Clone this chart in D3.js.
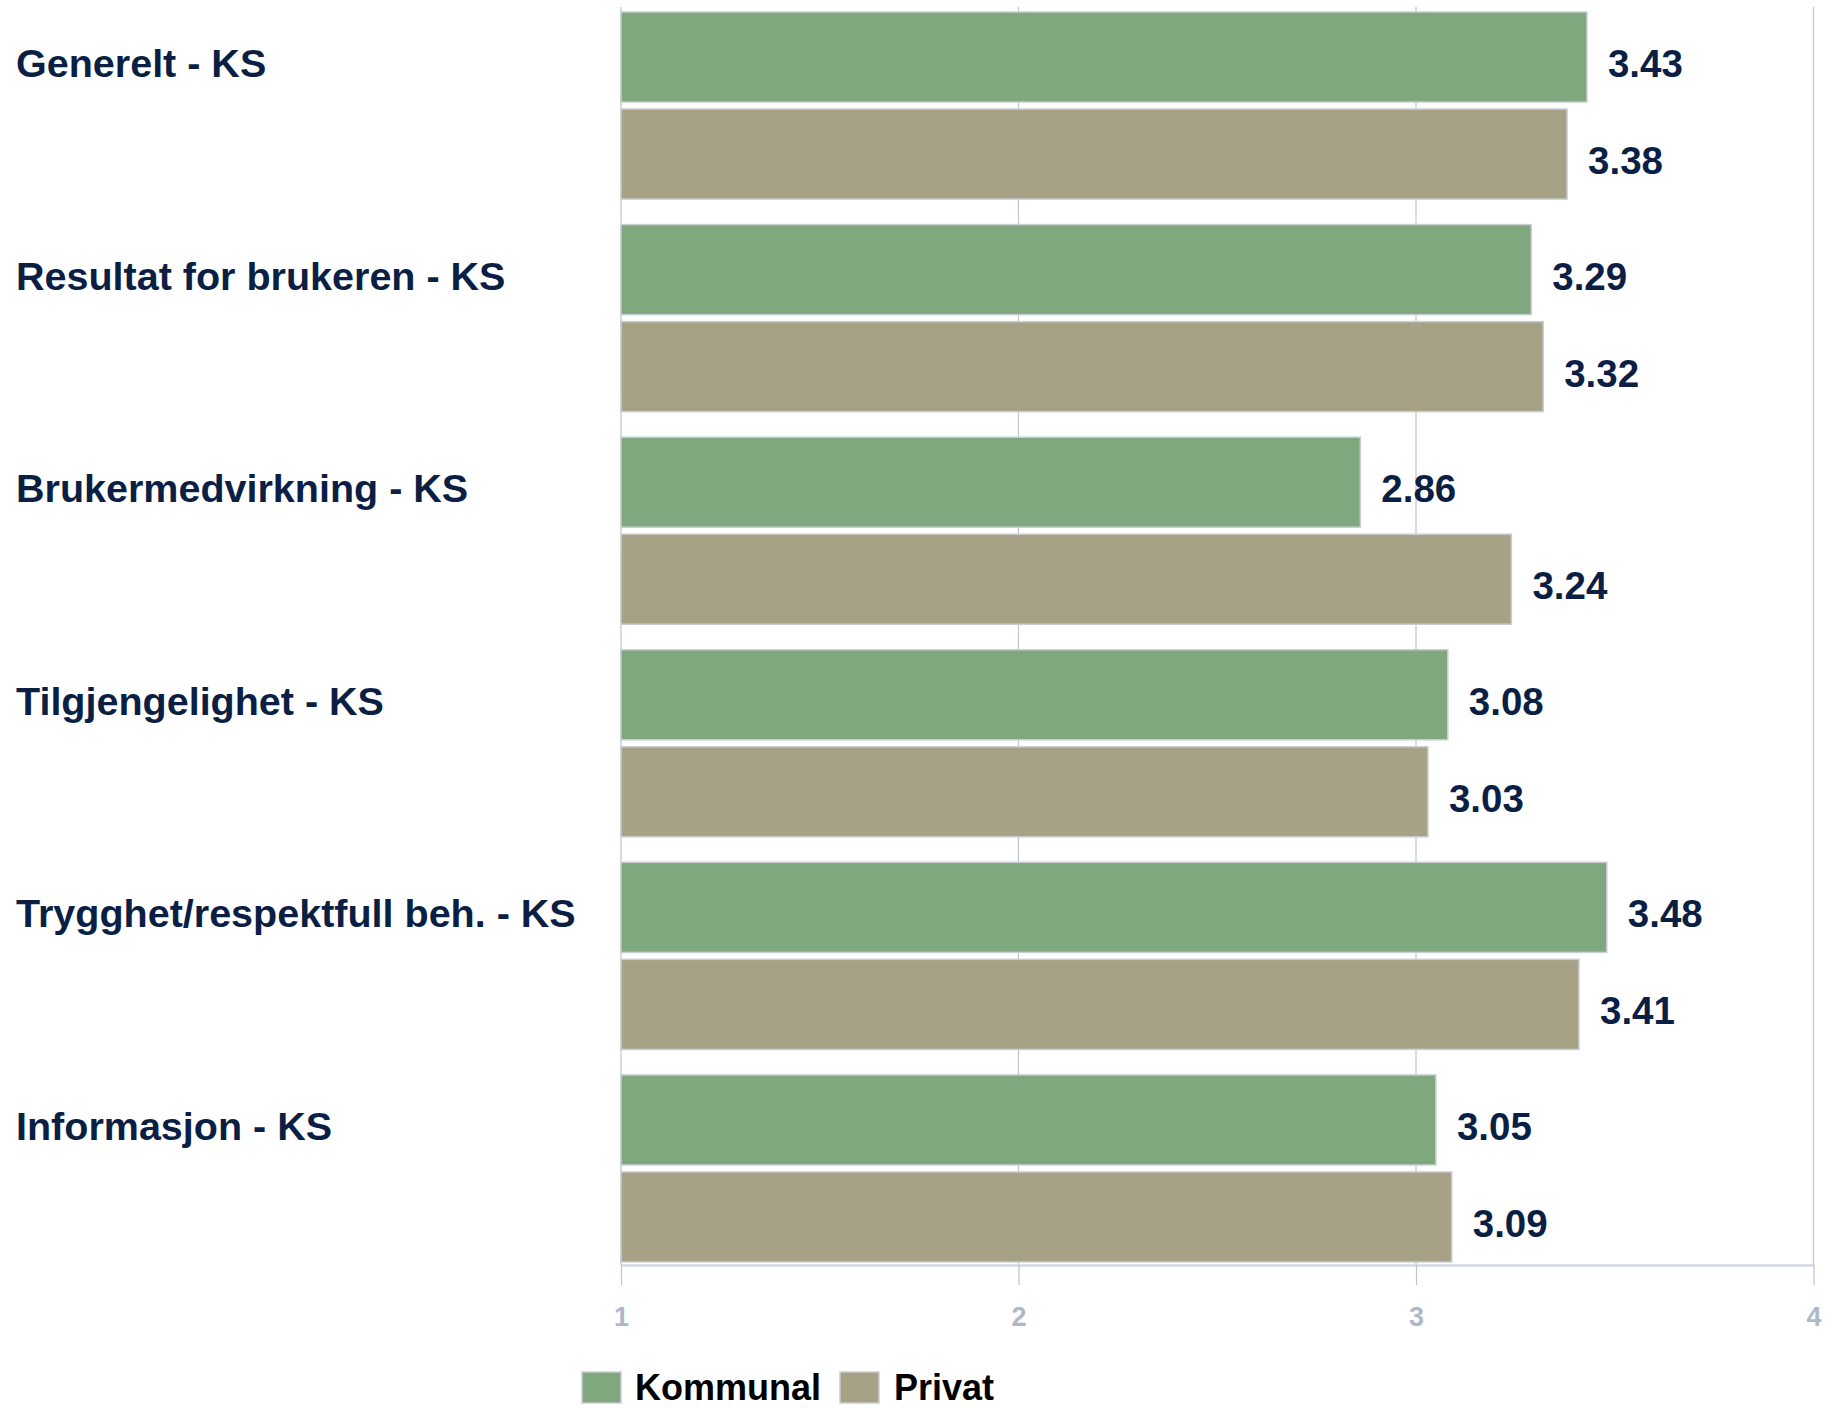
<!DOCTYPE html>
<html>
<head>
<meta charset="utf-8">
<script src="https://cdn.jsdelivr.net/npm/d3@7"></script>
<style>
  html, body { margin: 0; padding: 0; background: #fff; overflow: hidden; }
  svg { display: block; font-family: "Liberation Sans", Arial, sans-serif; }
</style>
</head>
<body>
<svg id="chart" width="1835" height="1408"></svg>
<script>
const categories = [
  "Generelt - KS",
  "Resultat for brukeren - KS",
  "Brukermedvirkning - KS",
  "Tilgjengelighet - KS",
  "Trygghet/respektfull beh. - KS",
  "Informasjon - KS"
];
const seriesNames = ["Kommunal", "Privat"];
const kommunal = [3.43, 3.29, 2.86, 3.08, 3.48, 3.05];
const privat   = [3.38, 3.32, 3.24, 3.03, 3.41, 3.09];
const tickValues = [1, 2, 3, 4];
const seriesColors = ["#7fa87e", "#a7a285"];

const svg = d3.select("#chart");
const navy = "#0b1f45";
const gridColor = "#bcc5d2";

const x = d3.scaleLinear().domain([1, 4]).range([621, 1813.5]);
const y = d3.scaleBand().domain(categories).range([12, 1262]).paddingInner(0.12).paddingOuter(0);
const ySub = d3.scaleBand().domain(seriesNames).range([0, y.bandwidth()]).paddingInner(0.072).paddingOuter(0);
const color = d3.scaleOrdinal().domain(seriesNames).range(seriesColors);

const data = categories.map((c, i) => ({
  cat: c,
  values: [
    { s: "Kommunal", v: kommunal[i] },
    { s: "Privat", v: privat[i] }
  ]
}));

// Grid lines + ticks
const axisG = svg.append("g").attr("transform", "translate(0,1265)");
const xAxis = d3.axisBottom(x).tickValues(tickValues).tickFormat(d3.format("d")).tickSize(20).tickSizeOuter(0).tickPadding(22);
axisG.call(xAxis);
axisG.select(".domain").attr("stroke", "#d3d9e1").attr("stroke-width", 2.5);
axisG.selectAll(".tick line").attr("stroke", gridColor).attr("stroke-width", 1.2);
axisG.selectAll(".tick text")
  .attr("fill", "#aeb8c7")
  .attr("font-size", 27)
  .attr("font-weight", "bold")
  .attr("font-family", "'Liberation Sans', Arial, sans-serif");

svg.append("g").selectAll("line")
  .data(tickValues)
  .join("line")
  .attr("x1", d => x(d)).attr("x2", d => x(d))
  .attr("y1", 7).attr("y2", 1265)
  .attr("stroke", gridColor)
  .attr("stroke-width", 1.2);

// Bars
const groups = svg.append("g").selectAll("g")
  .data(data)
  .join("g")
  .attr("transform", d => `translate(0,${y(d.cat)})`);

groups.selectAll("rect")
  .data(d => d.values)
  .join("rect")
  .attr("x", x(1))
  .attr("y", d => ySub(d.s))
  .attr("width", d => x(d.v) - x(1))
  .attr("height", ySub.bandwidth())
  .attr("fill", d => color(d.s))
  .attr("stroke", "#c9cdd3")
  .attr("stroke-width", 1.5);

groups.selectAll("text.val")
  .data(d => d.values)
  .join("text")
  .attr("class", "val")
  .attr("x", d => x(d.v) + 21)
  .attr("y", d => ySub(d.s) + ySub.bandwidth() / 2 + 20)
  .attr("fill", navy)
  .attr("font-size", 38.5)
  .attr("font-weight", "bold")
  .text(d => d3.format(".2f")(d.v));

// Category labels
svg.append("g").selectAll("text")
  .data(categories)
  .join("text")
  .attr("x", 16)
  .attr("y", d => y(d) + ySub("Kommunal") + ySub.bandwidth() / 2 + 20)
  .attr("fill", navy)
  .attr("font-size", 39.5)
  .attr("font-weight", "bold")
  .text(d => d);

// Legend
const legendItems = [
  { s: "Kommunal", x: 582, tx: 635 },
  { s: "Privat", x: 840, tx: 894 }
];
const lg = svg.append("g").selectAll("g").data(legendItems).join("g");
lg.append("rect")
  .attr("x", d => d.x).attr("y", 1372)
  .attr("width", 39).attr("height", 31)
  .attr("fill", d => color(d.s))
  .attr("stroke", "#c9cdd3").attr("stroke-width", 1.5);
lg.append("text")
  .attr("x", d => d.tx).attr("y", 1400)
  .attr("fill", "#000")
  .attr("font-size", 36)
  .attr("font-weight", "bold")
  .text(d => d.s);
</script>
</body>
</html>
